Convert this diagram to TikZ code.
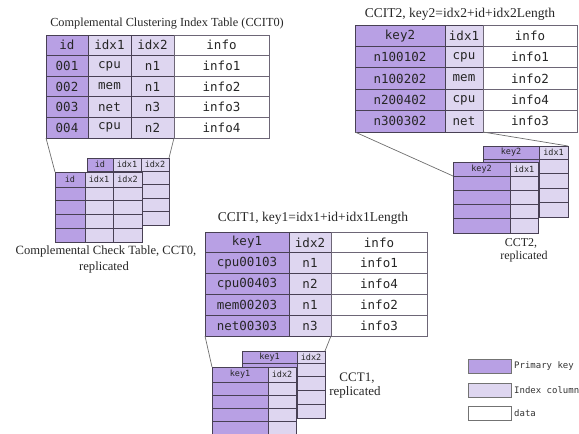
\documentclass[tikz,border=0pt]{standalone}
\usepackage{fontspec}
\setmainfont{Liberation Serif}
\setmonofont{DejaVu Sans Mono}
\definecolor{pk}{RGB}{184,160,228}
\definecolor{ix}{RGB}{222,214,240}
\definecolor{bd}{RGB}{72,64,84}
\definecolor{ln}{RGB}{110,110,110}
\tikzset{
 cellbase/.style={draw=bd, line width=0.8pt, inner sep=0pt, outer sep=0pt, anchor=center, text=black!85},
 pkcell/.style={cellbase, fill=pk},
 ixcell/.style={cellbase, fill=ix},
 datacell/.style={cellbase, fill=white, draw=bd!80},
 big/.style={font=\fontsize{12.5}{14}\ttfamily},
 small/.style={font=\fontsize{8.5}{9}\ttfamily},
 titletext/.style={font=\fontsize{13.5}{15}\selectfont, inner sep=0pt, text=black!85},
 conn/.style={draw=ln, line width=0.7pt},
 legendtext/.style={font=\fontsize{9}{10}\ttfamily, anchor=west, inner sep=0pt, text=black!80},
 legendbox/.style={draw=black!55, line width=0.7pt, inner sep=0pt, outer sep=0pt, minimum width=43pt, minimum height=14pt, anchor=north west},
}
\newcommand\cell[7]{\node[#6, minimum width={#4-#2}, minimum height={#5-#3}] (#1) at ({(#2+#4)/2},{(#3+#5)/2}) {#7};}
\begin{document}
\begin{tikzpicture}[x=1pt,y=-1pt]
\useasboundingbox (0,0) rectangle (579,434);
% ---------- CCIT0 ----------
\node[titletext, font=\fontsize{12.3}{14}\selectfont] (t0) at (167,24) {Complemental Clustering Index Table (CCIT0)};
\cell{a-01}{46}{35}{88}{55.6}{pkcell,big}{id}
\cell{a-02}{88}{35}{131}{55.6}{ixcell,big}{idx1}
\cell{a-03}{131}{35}{174}{55.6}{ixcell,big}{idx2}
\cell{a-04}{174}{35}{269}{55.6}{datacell,big}{info}
\foreach \r/\ya/\yb/\c/\d/\e/\f in {1/55.6/76.2/001/cpu/n1/info1, 2/76.2/96.8/002/mem/n1/info2, 3/96.8/117.4/003/net/n3/info3, 4/117.4/138/004/cpu/n2/info4}{
 \cell{a-\r1}{46}{\ya}{88}{\yb}{pkcell,big}{\c}
 \cell{a-\r2}{88}{\ya}{131}{\yb}{ixcell,big}{\d}
 \cell{a-\r3}{131}{\ya}{174}{\yb}{ixcell,big}{\e}
 \cell{a-\r4}{174}{\ya}{269}{\yb}{datacell,big}{\f}
}
% ---------- CCIT2 ----------
\node[titletext] (t2) at (460,14) {CCIT2, key2=idx2+id+idx2Length};
\cell{c-01}{355}{25}{445}{46.4}{pkcell,big}{key2}
\cell{c-02}{445}{25}{483}{46.4}{ixcell,big}{idx1}
\cell{c-03}{483}{25}{577}{46.4}{datacell,big}{info}
\foreach \r/\ya/\yb/\c/\d/\f in {1/46.4/67.8/n100102/cpu/info1, 2/67.8/89.2/n100202/mem/info2, 3/89.2/110.6/n200402/cpu/info4, 4/110.6/132/n300302/net/info3}{
 \cell{c-\r1}{355}{\ya}{445}{\yb}{pkcell,big}{\c}
 \cell{c-\r2}{445}{\ya}{483}{\yb}{ixcell,big}{\d}
 \cell{c-\r3}{483}{\ya}{577}{\yb}{datacell,big}{\f}
}
% ---------- CCIT1 ----------
\node[titletext] (t1) at (313,218) {CCIT1, key1=idx1+id+idx1Length};
\cell{b-01}{205}{232}{289}{252.8}{pkcell,big}{key1}
\cell{b-02}{289}{232}{331}{252.8}{ixcell,big}{idx2}
\cell{b-03}{331}{232}{427}{252.8}{datacell,big}{info}
\foreach \r/\ya/\yb/\c/\d/\f in {1/252.8/273.6/cpu00103/n1/info1, 2/273.6/294.4/cpu00403/n2/info4, 3/294.4/315.2/mem00203/n1/info2, 4/315.2/336/net00303/n3/info3}{
 \cell{b-\r1}{205}{\ya}{289}{\yb}{pkcell,big}{\c}
 \cell{b-\r2}{289}{\ya}{331}{\yb}{ixcell,big}{\d}
 \cell{b-\r3}{331}{\ya}{427}{\yb}{datacell,big}{\f}
}
% ---------- CCT0 ----------
\cell{p-h1}{87}{158}{113}{171}{pkcell,small}{id}
\cell{p-h2}{113}{158}{141}{171}{ixcell,small}{idx1}
\cell{p-h3}{141}{158}{169}{171}{ixcell,small}{idx2}
\foreach \r/\ya/\yb in {1/171/184.5, 2/184.5/198, 3/198/211.5, 4/211.5/225}{
 \cell{p-\r1}{87}{\ya}{113}{\yb}{pkcell}{}
 \cell{p-\r2}{113}{\ya}{141}{\yb}{ixcell}{}
 \cell{p-\r3}{141}{\ya}{169}{\yb}{ixcell}{}
}
\cell{q-h1}{55}{172}{85}{187}{pkcell,small}{id}
\cell{q-h2}{85}{172}{113}{187}{ixcell,small}{idx1}
\cell{q-h3}{113}{172}{142}{187}{ixcell,small}{idx2}
\foreach \r/\ya/\yb in {1/187/200.75, 2/200.75/214.5, 3/214.5/228.25, 4/228.25/242}{
 \cell{q-\r1}{55}{\ya}{85}{\yb}{pkcell}{}
 \cell{q-\r2}{85}{\ya}{113}{\yb}{ixcell}{}
 \cell{q-\r3}{113}{\ya}{142}{\yb}{ixcell}{}
}
\node[titletext, font=\fontsize{12.6}{14}\selectfont] (cap0a) at (106,251) {Complemental Check Table, CCT0,};
\node[titletext, font=\fontsize{12.6}{14}\selectfont] (cap0b) at (104,267) {replicated};
\draw[conn] (a-41.south west) -- (q-h1.north west);
\draw[conn] (a-43.south east) -- (p-h3.north east);
% ---------- CCT2 ----------
\cell{r-h1}{483}{146}{539}{159}{pkcell,small}{key2}
\cell{r-h2}{539}{146}{568}{159}{ixcell,small}{idx1}
\foreach \r/\ya/\yb in {1/159/173.5, 2/173.5/188, 3/188/202.5, 4/202.5/217}{
 \cell{r-\r1}{483}{\ya}{539}{\yb}{pkcell}{}
 \cell{r-\r2}{539}{\ya}{568}{\yb}{ixcell}{}
}
\cell{s-h1}{453}{162}{510}{176}{pkcell,small}{key2}
\cell{s-h2}{510}{162}{538}{176}{ixcell,small}{idx1}
\foreach \r/\ya/\yb in {1/176/190.25, 2/190.25/204.5, 3/204.5/218.75, 4/218.75/233}{
 \cell{s-\r1}{453}{\ya}{510}{\yb}{pkcell}{}
 \cell{s-\r2}{510}{\ya}{538}{\yb}{ixcell}{}
}
\node[titletext, font=\fontsize{12}{13}\selectfont] (cap2a) at (521,243) {CCT2,};
\node[titletext, font=\fontsize{12}{13}\selectfont] (cap2b) at (524,257) {replicated};
\draw[conn] (c-41.south west) -- (s-h1.south west);
\draw[conn] (c-42.south east) -- (r-h2.north east);
% ---------- CCT1 ----------
\cell{u-h1}{242}{351}{297}{363}{pkcell,small}{key1}
\cell{u-h2}{297}{351}{325}{363}{ixcell,small}{idx2}
\foreach \r/\ya/\yb in {1/363/376.75, 2/376.75/390.5, 3/390.5/404.25, 4/404.25/418}{
 \cell{u-\r1}{242}{\ya}{297}{\yb}{pkcell}{}
 \cell{u-\r2}{297}{\ya}{325}{\yb}{ixcell}{}
}
\cell{v-h1}{212}{367}{268}{382}{pkcell,small}{key1}
\cell{v-h2}{268}{367}{296}{382}{ixcell,small}{idx2}
\foreach \r/\ya/\yb in {1/382/395, 2/395/408, 3/408/421, 4/421/434}{
 \cell{v-\r1}{212}{\ya}{268}{\yb}{pkcell}{}
 \cell{v-\r2}{268}{\ya}{296}{\yb}{ixcell}{}
}
\node[titletext, font=\fontsize{13}{14}\selectfont] (cap1a) at (357,378) {CCT1,};
\node[titletext, font=\fontsize{13}{14}\selectfont] (cap1b) at (355,392) {replicated};
\draw[conn] (b-41.south west) -- (v-h1.north west);
\draw[conn] (b-42.south east) -- (u-h2.north east);
% ---------- legend ----------
\node[legendbox, fill=pk] (lg1) at (468,359) {};
\node[legendbox, fill=ix] (lg2) at (468,383) {};
\node[legendbox, fill=white] (lg3) at (468,406) {};
\node[legendtext] (lt1) at ([xshift=3pt]lg1.east) {Primary key};
\node[legendtext] (lt2) at ([xshift=3pt]lg2.east) {Index column};
\node[legendtext] (lt3) at ([xshift=3pt]lg3.east) {data};
\end{tikzpicture}
\end{document}
